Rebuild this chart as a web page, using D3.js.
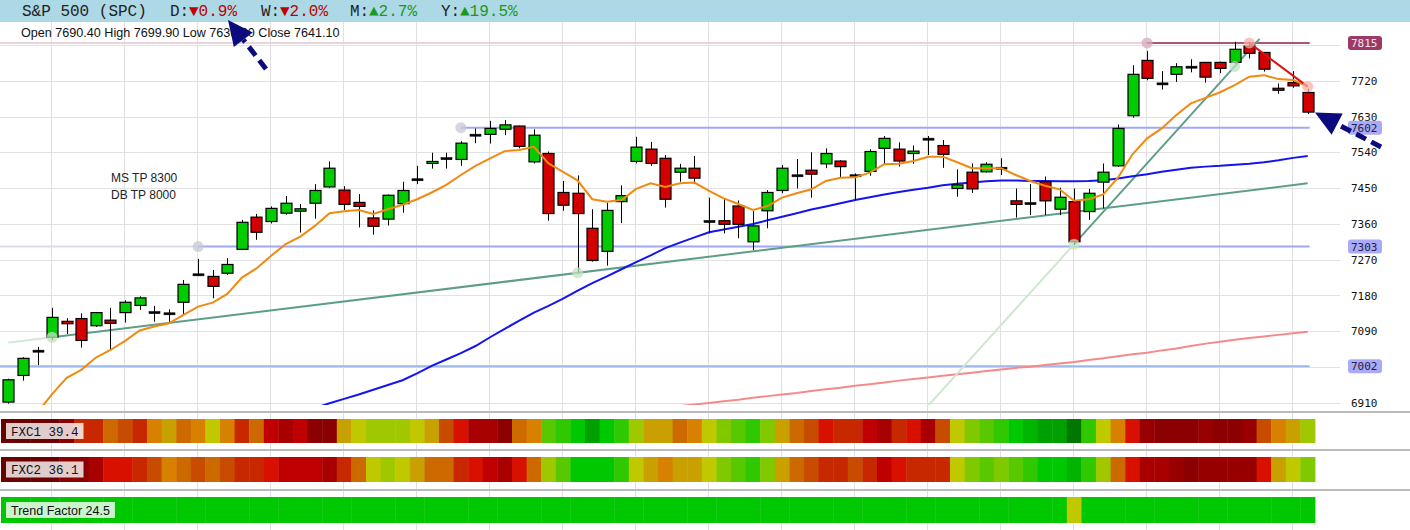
<!DOCTYPE html>
<html>
<head>
<meta charset="utf-8">
<script src="https://cdn.jsdelivr.net/npm/d3@7"></script>
<style>
  body { margin: 0; background: #fff; }
  svg { display: block; }
</style>
</head>
<body>
<div id="chart"></div>
<script>
(function(d3){

  /**
   * Daily candles (index 0 = leftmost bar).
   */
  var opens  = [6912,6979,7040,7075,7115,7122,7104,7118,7137,7155, 7137,7134,7163,7232,7228,7236,7296,7377,7366,7387,
                7392,7412,7453,7445,7414,7375,7372,7411,7471,7512, 7524,7522,7583,7585,7598,7606,7516,7537,7439,7437,
                7349,7291,7416,7517,7548,7525,7490,7500,7366,7368, 7405,7315,7393,7444,7481,7495,7511,7518,7481,7492,
                7550,7548,7537,7573,7557,7449,7490,7491,7500,7418, 7411,7466,7397,7416,7391,7465,7506,7632,7771,7712,
                7736,7754,7766,7766,7766,7807,7791,7701,7715,7690.4];
  var highs  = [6971,7025,7051,7149,7123,7135,7138,7149,7168,7178, 7154,7145,7219,7272,7244,7274,7370,7385,7404,7430,
                7410,7460,7517,7455,7435,7394,7434,7466,7506,7539, 7539,7568,7600,7619,7621,7607,7598,7542,7468,7482,
                7397,7413,7457,7579,7566,7533,7511,7531,7426,7423, 7419,7392,7445,7508,7523,7540,7550,7520,7487,7548,
                7581,7565,7557,7581,7571,7497,7512,7515,7525,7449, 7460,7479,7451,7449,7448,7512,7610,7759,7795,7744,
                7764,7774,7767,7768,7818,7818,7792,7713,7744,7699.9];
  var lows   = [6908,6966,7005,7068,7083,7049,7101,7043,7112,7144, 7114,7114,7132,7229,7173,7232,7294,7320,7361,7383,
                7338,7373,7450,7395,7351,7333,7356,7388,7460,7499, 7499,7506,7563,7562,7583,7550,7512,7368,7393,7237,
                7265,7255,7362,7512,7506,7401,7466,7460,7336,7336, 7324,7294,7349,7437,7449,7426,7500,7476,7420,7481,
                7511,7504,7511,7533,7501,7428,7438,7489,7483,7376, 7382,7382,7382,7307,7370,7399,7503,7627,7721,7698,
                7717,7741,7715,7739,7762,7776,7743,7687,7702,7636];
  var closes = [6968,7022,7040,7125,7109,7067,7137,7110,7163,7174, 7137,7134,7208,7232,7203,7258,7364,7339,7399,7412,
                7398,7444,7500,7409,7404,7354,7432,7444,7471,7517, 7524,7563,7583,7600,7609,7555,7583,7386,7407,7386,
                7268,7394,7431,7553,7512,7422,7500,7475,7366,7359, 7359,7355,7439,7500,7481,7485,7537,7504,7481,7542,
                7575,7518,7543,7573,7535,7458,7448,7510,7500,7409, 7411,7418,7427,7315,7437,7490,7600,7736,7726,7712,
                7755,7754,7729,7751,7799,7789,7749,7696,7707,7641.1];

  // moving averages as drawn on the chart
  var maFast = [null,null,6886,6932,6973,6993,7024,7043,7066,7092, 7102,7110,7131,7152,7162,7184,7225,7248,7280,7309,
                7328,7355,7387,7392,7395,7385,7397,7408,7422,7439, 7458,7483,7506,7525,7543,7546,7554,7512,7491,7469,
                7422,7416,7420,7448,7462,7453,7462,7464,7443,7424, 7410,7395,7405,7426,7437,7447,7468,7476,7477,7489,
                7510,7511,7518,7529,7529,7515,7500,7500,7500,7483, 7468,7456,7447,7418,7422,7434,7476,7535,7575,7600,
                7634,7663,7677,7691,7709,7730,7734,7724,7722,7705];
  var maSlow = [null,null,null,null,null,null,null,null,null,null, null,null,null,null,null,null,null,null,null,null,
                null,6897,6909,6920,6931,6943,6955,6967,6984,7003, 7019,7035,7053,7075,7096,7117,7137,7154,7172,7192,
                7211,7228,7246,7264,7281,7299,7313,7326,7339,7346, 7353,7360,7369,7378,7387,7396,7404,7412,7420,7427,
                7434,7440,7446,7451,7457,7461,7464,7467,7469,7469, 7468,7468,7467,7467,7468,7470,7474,7480,7485,7491,
                7496,7501,7504,7506,7509,7511,7515,7520,7526,7531];
  var maLong = [null,null,null,null,null,null,null,null,null,null, null,null,null,null,null,null,null,null,null,null,
                null,null,null,null,null,null,null,null,null,null, null,null,null,null,null,null,null,null,null,null,
                null,null,null,null,null,null,6902,6906,6910,6914, 6918,6923,6927,6931,6935,6940,6944,6948,6953,6957,
                6961,6966,6970,6974,6978,6982,6986,6990,6994,6998, 7001,7005,7009,7013,7018,7022,7027,7032,7036,7042,
                7047,7053,7059,7064,7069,7073,7077,7081,7085,7089];

  // heat strips: level per bar, 0 = deep red ... 19 = deep green
  var fxc1 = [0,0,0,0,1,6,6,8,7,6, 9,10,8,9,11,9,6,8,4,3, 4,1,1,10,11,12,12,12,11,10, 7,5,3,3,1,8,9,14,15,16,
              18,16,15,12,10,10,8,9,11,13, 14,15,13,10,8,7,5,6,6,4, 3,6,5,3,7,11,13,14,15,16, 17,18,18,19,15,11,9,5,2,1,
              1,1,2,1,1,2,7,9,10,12];
  var fxc2 = [0,0,0,0,1,1,3,5,5,6, 7,9,8,7,8,7,6,6,5,4, 4,4,3,6,8,11,12,11,10,8, 8,6,5,4,3,5,8,12,14,16,
              16,16,15,11,10,9,10,10,11,13, 14,15,13,10,8,7,6,6,7,6, 4,5,6,6,6,11,13,14,13,14, 15,16,16,17,15,12,8,5,3,3,
              2,1,2,2,2,2,5,10,11,13];
  var trendFactor = [16,16,16,16,16,16,16,16,16,16, 16,16,16,16,16,16,16,16,16,16, 16,16,16,16,16,16,16,16,16,16,
              16,16,16,16,16,16,16,16,16,16, 16,16,16,16,16,16,16,16,16,16, 16,16,16,16,16,16,16,16,16,16,
              16,16,16,16,16,16,16,16,16,16, 16,16,16,11,16,16,16,16,16,16, 16,16,16,16,16,16,16,16,16,16];
  var stripNames = ['FXC1 39.4', 'FXC2 36.1', 'Trend Factor 24.5'];

  // price axis and drawn levels
  var yTicks = [6910, 7000, 7090, 7180, 7270, 7360, 7450, 7540, 7630, 7720, 7810];
  var levelValues = [7815, 7602, 7303, 7002];
  var levelStarts = [78, 31, 13, 0];

  // trend lines: [start bar, value, end bar, value, faded from bar]
  var trendLines = [[3, 7075, 89, 7462, 0], [73, 7309, 84, 7756, 62]];
  var trendEnds  = [89, 85.7];
  var downLine   = [[85, 7815], [89, 7705]];

  var headerParts = [['S&P 500 (SPC)', '#222'], ['D:', '#222'], ['\u25BC0.9%', '#c00000'], ['W:', '#222'], ['\u25BC2.0%', '#c00000'],
                     ['M:', '#222'], ['\u25B22.7%', '#1a9a1a'], ['Y:', '#222'], ['\u25B219.5%', '#1a9a1a']];
  var headerX = [22, 170, 189, 261, 280, 350, 369, 441, 460];
  var notes = ['MS TP 8300', 'DB TP 8000'];


  var W = 1410, H = 530,
      plot = {left: 0, right: 1340, top: 22, bottom: 405},
      n = opens.length;

  var palette = ['#6b0000','#8b0000','#980000','#a80000','#c00000','#d81000','#c82800','#c84c00','#cc6a00','#d88000',
                 '#c8a000','#c0c800','#a0c800','#80c800','#58c800','#30c800','#00c800','#00b400','#00a000','#007800'];
  var heat = d3.scaleOrdinal().domain(d3.range(palette.length)).range(palette);

  var xb = d3.scaleBand().domain(d3.range(n)).range([1, 1315]);
  var xi = d3.scaleLinear().domain([0, n - 1]).range([xb(0) + xb.bandwidth() / 2, xb(n - 1) + xb.bandwidth() / 2]);
  var y  = d3.scaleLinear().domain([6904.7, 7867.6]).range([plot.bottom, plot.top]);

  var svg = d3.select('#chart').append('svg')
      .attr('width', W)
      .attr('height', H)
      .style('font-family', '"Liberation Sans", Arial, sans-serif');

  svg.append('defs').append('clipPath').attr('id', 'plotclip')
    .append('rect')
      .attr('x', plot.left).attr('y', plot.top)
      .attr('width', plot.right - plot.left).attr('height', plot.bottom - plot.top);


  /**
   * Grid.
   */
  svg.append('g').selectAll('line')
      .data(yTicks)
    .enter().append('line')
      .attr('x1', 0).attr('x2', plot.right)
      .attr('y1', function(d) { return Math.round(y(d)) + 0.5; })
      .attr('y2', function(d) { return Math.round(y(d)) + 0.5; })
      .attr('stroke', '#e2e2e2');

  svg.append('g').selectAll('line')
      .data(d3.range(3, n, 5))
    .enter().append('line')
      .attr('x1', function(i) { return Math.round(xi(i)) - 0.5; })
      .attr('x2', function(i) { return Math.round(xi(i)) - 0.5; })
      .attr('y1', plot.top).attr('y2', H)
      .attr('stroke', '#e0e0e4');

  // separators under the plot and between strips
  svg.append('g').selectAll('line')
      .data([412, 450, 490])
    .enter().append('line')
      .attr('x1', 0).attr('x2', W)
      .attr('y1', function(d) { return d; }).attr('y2', function(d) { return d; })
      .attr('stroke', '#bbb').attr('stroke-width', 2);


  /**
   * Header.
   */
  svg.append('rect').attr('x', 0).attr('y', 0).attr('width', W).attr('height', 22).attr('fill', '#add8e6');
  svg.append('g').selectAll('text')
      .data(headerParts)
    .enter().append('text')
      .attr('x', function(d, i) { return headerX[i]; })
      .attr('y', 16)
      .attr('fill', function(d) { return d[1]; })
      .style('font-family', '"Liberation Mono", "DejaVu Sans Mono", monospace')
      .style('font-size', '16px')
      .text(function(d) { return d[0]; });

  var last = n - 1;
  svg.append('text')
      .attr('x', 21).attr('y', 37)
      .style('font-size', '12.6px')
      .attr('fill', '#111')
      .text('Open ' + opens[last].toFixed(2) + ' High ' + highs[last].toFixed(2) +
            ' Low ' + lows[last].toFixed(2) + ' Close ' + closes[last].toFixed(2));


  /**
   * Lines in the plot.
   */
  var g = svg.append('g').attr('clip-path', 'url(#plotclip)');

  // horizontal levels, faded part left of the anchor
  levelValues.forEach(function(v, k) {
    var x0 = xi(levelStarts[k]);
    var col = k === 0 ? '#a8557a' : (k === 3 ? '#9ab8ec' : '#a0a8f5');
    if (k === 0 || k === 2) {
      g.append('line')
        .attr('x1', 0).attr('x2', x0)
        .attr('y1', y(v)).attr('y2', y(v))
        .attr('stroke', k === 0 ? '#ecd2dc' : '#dcdcec').attr('stroke-width', 2);
    }
    g.append('line')
      .attr('x1', k === 3 ? 0 : x0).attr('x2', xi(last) + 2)
      .attr('y1', y(v)).attr('y2', y(v))
      .attr('stroke', col).attr('stroke-width', 2);
  });

  var lineGen = d3.line()
      .defined(function(d) { return d != null; })
      .x(function(d, i) { return xi(i); })
      .y(function(d) { return y(d); });

  g.append('path').datum(maLong).attr('d', lineGen)
      .attr('fill', 'none').attr('stroke', '#f58a8a').attr('stroke-width', 2);

  // trend lines
  trendLines.forEach(function(t, k) {
    var slope = (t[3] - t[1]) / (t[2] - t[0]);
    var at = function(i) { return t[1] + slope * (i - t[0]); };
    g.append('line')
      .attr('x1', xi(t[4])).attr('y1', y(at(t[4])))
      .attr('x2', xi(t[0])).attr('y2', y(at(t[0])))
      .attr('stroke', '#cfe6cf').attr('stroke-width', 2);
    g.append('line')
      .attr('x1', xi(t[0])).attr('y1', y(at(t[0])))
      .attr('x2', xi(trendEnds[k])).attr('y2', y(at(trendEnds[k])))
      .attr('stroke', '#5f9e86').attr('stroke-width', 2);
  });

  g.append('path').datum(maSlow).attr('d', lineGen)
      .attr('fill', 'none').attr('stroke', '#1414ee').attr('stroke-width', 2);


  /**
   * Candles.
   */
  var candles = g.append('g').selectAll('g')
      .data(d3.range(n))
    .enter().append('g');

  candles.append('line')
      .attr('x1', function(i) { return Math.round(xi(i)) + 0.5; })
      .attr('x2', function(i) { return Math.round(xi(i)) + 0.5; })
      .attr('y1', function(i) { return y(highs[i]); })
      .attr('y2', function(i) { return y(lows[i]); })
      .attr('stroke', '#000');

  candles.append('rect')
      .attr('x', function(i) { return Math.round(xi(i)) - 5; })
      .attr('width', 11)
      .attr('y', function(i) {
        return opens[i] === closes[i] ? y(opens[i]) - 1 : y(Math.max(opens[i], closes[i]));
      })
      .attr('height', function(i) {
        return opens[i] === closes[i] ? 2 : Math.abs(y(opens[i]) - y(closes[i]));
      })
      .attr('fill', function(i) {
        if (opens[i] === closes[i]) return '#000';
        return closes[i] > opens[i] ? '#00cc00' : '#d40000';
      })
      .attr('stroke', '#000')
      .attr('stroke-width', function(i) { return opens[i] === closes[i] ? 0.6 : 1.2; });

  g.append('path').datum(maFast).attr('d', lineGen)
      .attr('fill', 'none').attr('stroke', '#f08a10').attr('stroke-width', 2);

  g.append('line')
      .attr('x1', xi(downLine[0][0])).attr('y1', y(downLine[0][1]))
      .attr('x2', xi(downLine[1][0])).attr('y2', y(downLine[1][1]))
      .attr('stroke', '#dd1111').attr('stroke-width', 2);

  // anchor dots
  var dots = [[13, levelValues[2], '#c8c8d4'], [31, levelValues[1], '#c8c8d4'],
              [3, trendLines[0][1], '#bfe3bf'], [39, lows[39], '#bfe3bf'], [73, trendLines[1][1], '#bfe3bf'],
              [84, trendLines[1][3], '#bfe3bf'], [78, levelValues[0], '#d8a8bc'],
              [downLine[0][0], downLine[0][1], '#f6b0a8'], [downLine[1][0], downLine[1][1], '#f6b0a8']];
  g.append('g').selectAll('circle')
      .data(dots)
    .enter().append('circle')
      .attr('cx', function(d) { return xi(d[0]); })
      .attr('cy', function(d) { return y(d[1]); })
      .attr('r', 5.5)
      .attr('fill', function(d) { return d[2]; })
      .attr('opacity', 0.75);

  svg.append('g').selectAll('text')
      .data(notes)
    .enter().append('text')
      .attr('x', 111)
      .attr('y', function(d, i) { return 182 + 17 * i; })
      .style('font-size', '12px')
      .attr('fill', '#222')
      .text(function(d) { return d; });


  /**
   * Price axis and level tags.
   */
  var axis = svg.append('g')
      .attr('transform', 'translate(1351,0)')
      .call(d3.axisRight(y).tickValues(yTicks).tickSize(0).tickPadding(0).tickFormat(d3.format('d')));
  axis.select('.domain').remove();
  axis.selectAll('text')
      .style('font-family', '"DejaVu Sans Mono", monospace')
      .style('font-size', '11px')
      .attr('fill', '#111');

  var tags = svg.append('g').selectAll('g')
      .data(levelValues)
    .enter().append('g')
      .attr('transform', function(d) { return 'translate(1348,' + y(d) + ')'; });
  tags.append('rect')
      .attr('x', 0).attr('y', -7).attr('width', 34).attr('height', 14).attr('rx', 3)
      .attr('fill', function(d, i) { return i === 0 ? '#9b3a68' : '#aaaaf6'; });
  tags.append('text')
      .attr('x', 3).attr('y', 4)
      .style('font-family', '"DejaVu Sans Mono", monospace')
      .style('font-size', '11px')
      .attr('fill', function(d, i) { return i === 0 ? '#f4e4ec' : '#20204a'; })
      .text(function(d) { return d; });


  /**
   * Heat strips.
   */
  var strips = [fxc1, fxc2, trendFactor],
      stripTop = [419, 457, 497],
      stripH = [24, 25, 26];

  strips.forEach(function(vals, k) {
    var s = svg.append('g').attr('transform', 'translate(0,' + stripTop[k] + ')');
    s.selectAll('rect')
        .data(vals)
      .enter().append('rect')
        .attr('x', function(d, i) { return xb(i); })
        .attr('width', xb.bandwidth() + 0.4)
        .attr('y', 0)
        .attr('height', stripH[k])
        .attr('fill', function(d) { return heat(d); });

    var mono = k < 2;
    var label = s.append('text')
        .attr('x', 11)
        .attr('y', stripH[k] / 2 + 4.5)
        .style('font-family', mono ? '"Liberation Mono", monospace' : '"Liberation Sans", Arial, sans-serif')
        .style('font-size', mono ? '12.5px' : '12.5px')
        .attr('fill', '#111')
        .text(stripNames[k]);
    var bb = label.node().getBBox();
    s.insert('rect', 'text')
        .attr('x', 6).attr('y', stripH[k] / 2 - 8)
        .attr('width', bb.width + 10).attr('height', 16)
        .attr('fill', '#fff').attr('opacity', 0.8);
  });


  /**
   * Arrows.
   */
  function arrow(x1, y1, x2, y2) {
    var dx = x2 - x1, dy = y2 - y1, len = Math.sqrt(dx * dx + dy * dy),
        ux = dx / len, uy = dy / len, hl = 25, hw = 12,
        bx = x2 - ux * hl, by = y2 - uy * hl;
    svg.append('line')
        .attr('x1', x1).attr('y1', y1).attr('x2', bx).attr('y2', by)
        .attr('stroke', '#0b0b7d').attr('stroke-width', 5)
        .attr('stroke-dasharray', '11,6');
    svg.append('path')
        .attr('d', 'M' + x2 + ',' + y2 + 'L' + (bx - uy * hw) + ',' + (by + ux * hw) +
                   'L' + (bx + uy * hw) + ',' + (by - ux * hw) + 'Z')
        .attr('fill', '#0b0b7d');
  }
  arrow(266, 69, 228, 20);
  arrow(1381, 147, xi(89.5), y(7640));

})(d3);
</script>
</body>
</html>
